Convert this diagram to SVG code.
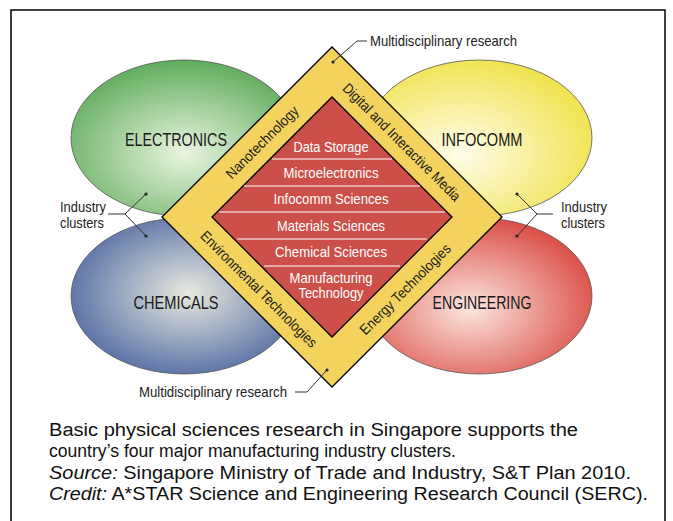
<svg xmlns="http://www.w3.org/2000/svg" width="673" height="521" viewBox="0 0 673 521">
  <defs>
    <radialGradient id="gGreen" cx="0.5" cy="0.6" r="0.62" fx="0.5" fy="0.6">
      <stop offset="0" stop-color="#EAF4E0"/>
      <stop offset="1" stop-color="#5DAA59"/>
    </radialGradient>
    <radialGradient id="gYellow" cx="0.42" cy="0.6" r="0.62" fx="0.42" fy="0.6">
      <stop offset="0" stop-color="#FFFDEA"/>
      <stop offset="1" stop-color="#F0E34F"/>
    </radialGradient>
    <radialGradient id="gBlue" cx="0.52" cy="0.48" r="0.62" fx="0.52" fy="0.48">
      <stop offset="0" stop-color="#E8E9DE"/>
      <stop offset="1" stop-color="#46609E"/>
    </radialGradient>
    <radialGradient id="gRed" cx="0.46" cy="0.58" r="0.62" fx="0.46" fy="0.58">
      <stop offset="0" stop-color="#FCE6E0"/>
      <stop offset="1" stop-color="#D8463E"/>
    </radialGradient>
    <style>
      .cluster { stroke: #555; stroke-width: 0.8; }
      .ctitle { font-family: "Liberation Sans", Arial, sans-serif; font-size: 18px; fill: #1a1a1a; text-anchor: middle; }
      .band { font-family: "Liberation Sans", Arial, sans-serif; font-size: 14.5px; fill: #1a1a1a; text-anchor: middle; }
      .area { font-family: "Liberation Sans", Arial, sans-serif; font-size: 14.5px; fill: #ffffff; text-anchor: middle; }
      .label { font-family: "Liberation Sans", Arial, sans-serif; font-size: 15px; fill: #222; }
      .caption { font-family: "Liberation Sans", Arial, sans-serif; font-size: 18px; fill: #111; }
      .lead { fill: none; stroke: #333; stroke-width: 1; }
      .dot { fill: #222; }
      .stripe { stroke: #ffffff; stroke-width: 1; }
    </style>
  </defs>

  <!-- outer frame -->
  <rect x="11" y="10" width="654" height="540" fill="none" stroke="#000" stroke-width="1.5"/>

  <!-- industry clusters -->
  <g id="electronics">
    <ellipse class="cluster" cx="184" cy="138" rx="113" ry="78" fill="url(#gGreen)"/>
    <text class="ctitle" x="176" y="146" textLength="102" lengthAdjust="spacingAndGlyphs">ELECTRONICS</text>
  </g>
  <g id="infocomm">
    <ellipse class="cluster" cx="479" cy="138" rx="113" ry="78" fill="url(#gYellow)"/>
    <text class="ctitle" x="482" y="146" textLength="81" lengthAdjust="spacingAndGlyphs">INFOCOMM</text>
  </g>
  <g id="chemicals">
    <ellipse class="cluster" cx="184" cy="296" rx="113" ry="78" fill="url(#gBlue)"/>
    <text class="ctitle" x="176" y="309" textLength="85" lengthAdjust="spacingAndGlyphs">CHEMICALS</text>
  </g>
  <g id="engineering">
    <ellipse class="cluster" cx="479" cy="296" rx="113" ry="78" fill="url(#gRed)"/>
    <text class="ctitle" x="482" y="309" textLength="99" lengthAdjust="spacingAndGlyphs">ENGINEERING</text>
  </g>

  <!-- multidisciplinary research band -->
  <g id="research-band">
    <polygon points="332,47 502,217 332,387 162,217" fill="#F3D35E" stroke="#000" stroke-width="1.3"/>
    <text class="band" transform="translate(262,142) rotate(-45)" dy="0.36em" textLength="96" lengthAdjust="spacingAndGlyphs">Nanotechnology</text>
    <text class="band" transform="translate(402,142) rotate(45)" dy="0.36em" textLength="160" lengthAdjust="spacingAndGlyphs">Digital and Interactive Media</text>
    <text class="band" transform="translate(259,289) rotate(45)" dy="0.36em" textLength="158" lengthAdjust="spacingAndGlyphs">Environmental Technologies</text>
    <text class="band" transform="translate(405,289) rotate(-45)" dy="0.36em" textLength="122" lengthAdjust="spacingAndGlyphs">Energy Technologies</text>
  </g>

  <!-- basic research areas -->
  <g id="research-areas">
    <polygon points="332,97 452,217 332,337 212,217" fill="#CC5049" stroke="#000" stroke-width="1.3"/>
    <line class="stripe" x1="272" y1="159" x2="392" y2="159"/>
    <line class="stripe" x1="244" y1="186" x2="420" y2="186"/>
    <line class="stripe" x1="219" y1="212" x2="445" y2="212"/>
    <line class="stripe" x1="237" y1="239" x2="427" y2="239"/>
    <line class="stripe" x1="264" y1="266" x2="400" y2="266"/>
    <text class="area" x="331" y="152" textLength="75" lengthAdjust="spacingAndGlyphs">Data Storage</text>
    <text class="area" x="331" y="178" textLength="95" lengthAdjust="spacingAndGlyphs">Microelectronics</text>
    <text class="area" x="331" y="204" textLength="115" lengthAdjust="spacingAndGlyphs">Infocomm Sciences</text>
    <text class="area" x="331" y="231" textLength="108" lengthAdjust="spacingAndGlyphs">Materials Sciences</text>
    <text class="area" x="331" y="257" textLength="112" lengthAdjust="spacingAndGlyphs">Chemical Sciences</text>
    <text class="area" x="331" y="283" textLength="83" lengthAdjust="spacingAndGlyphs">Manufacturing</text>
    <text class="area" x="331" y="298" textLength="65" lengthAdjust="spacingAndGlyphs">Technology</text>
  </g>

  <!-- leader lines -->
  <g id="connectors">
    <polyline class="lead" points="333,62 357,41 367,41"/>
    <circle class="dot" cx="333" cy="62" r="1.6"/>
    <polyline class="lead" points="295,392 307,392 327,370"/>
    <circle class="dot" cx="327" cy="370" r="1.6"/>
    <polyline class="lead" points="108,214 125,214 146,194"/>
    <polyline class="lead" points="125,214 146,236"/>
    <circle class="dot" cx="146" cy="194" r="1.6"/>
    <circle class="dot" cx="146" cy="236" r="1.6"/>
    <polyline class="lead" points="553,214 537,214 517,194"/>
    <polyline class="lead" points="537,214 517,236"/>
    <circle class="dot" cx="517" cy="194" r="1.6"/>
    <circle class="dot" cx="517" cy="236" r="1.6"/>
  </g>

  <!-- labels -->
  <g id="labels">
    <text class="label" x="370" y="46" textLength="147" lengthAdjust="spacingAndGlyphs">Multidisciplinary research</text>
    <text class="label" x="139" y="397" textLength="148" lengthAdjust="spacingAndGlyphs">Multidisciplinary research</text>
    <text class="label" x="60" y="212" textLength="46" lengthAdjust="spacingAndGlyphs">Industry</text>
    <text class="label" x="60" y="228" textLength="44" lengthAdjust="spacingAndGlyphs">clusters</text>
    <text class="label" x="561" y="212" textLength="46" lengthAdjust="spacingAndGlyphs">Industry</text>
    <text class="label" x="561" y="228" textLength="44" lengthAdjust="spacingAndGlyphs">clusters</text>
  </g>

  <!-- caption -->
  <g id="caption">
    <text class="caption" x="49" y="436" textLength="529" lengthAdjust="spacingAndGlyphs">Basic physical sciences research in Singapore supports the</text>
    <text class="caption" x="49" y="457" textLength="407" lengthAdjust="spacingAndGlyphs">country’s four major manufacturing industry clusters.</text>
    <text class="caption" x="49" y="479" textLength="582" lengthAdjust="spacingAndGlyphs"><tspan font-style="italic">Source:</tspan> Singapore Ministry of Trade and Industry, S&amp;T Plan 2010.</text>
    <text class="caption" x="49" y="500" textLength="599" lengthAdjust="spacingAndGlyphs"><tspan font-style="italic">Credit:</tspan> A*STAR Science and Engineering Research Council (SERC).</text>
  </g>
</svg>
